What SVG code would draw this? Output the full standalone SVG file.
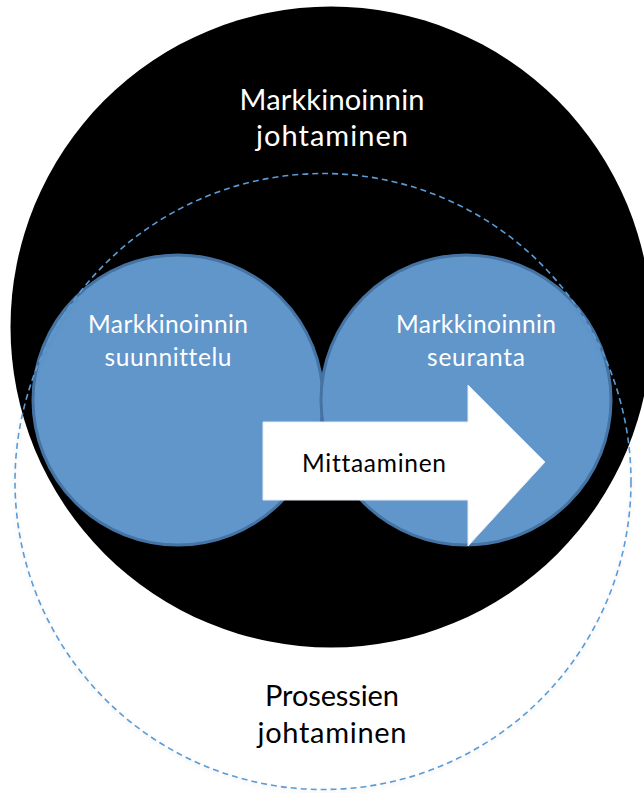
<svg xmlns="http://www.w3.org/2000/svg" width="644" height="793" viewBox="0 0 644 793">
  <defs>
    <filter id="soft" x="-10%" y="-10%" width="120%" height="120%">
      <feGaussianBlur in="SourceAlpha" stdDeviation="2"/>
      <feOffset dy="2" result="b"/>
      <feFlood flood-color="#000" flood-opacity="0.12"/>
      <feComposite in2="b" operator="in"/>
      <feMerge><feMergeNode/><feMergeNode in="SourceGraphic"/></feMerge>
    </filter>
    <style>
      .lbl { font-family: Lato, "Liberation Sans", sans-serif; text-anchor: middle; font-variant-ligatures: none; }
      .big { font-size: 29px; }
      .mid { font-size: 24.5px; }
      .light { fill: #ffffff; }
      .dark { fill: #000000; }
      .blob { fill: #6096ca; stroke: #4573a3; stroke-width: 3; }
    </style>
  </defs>
  <rect width="644" height="793" fill="#ffffff"/>

  <!-- outer area: marketing management -->
  <g id="markkinoinnin-johtaminen">
    <circle cx="331" cy="327" r="320.5" fill="#000000"/>
    <text class="lbl big light" x="332" y="110" textLength="185">Markkinoinnin</text>
    <text class="lbl big light" x="332" y="146" textLength="152">johtaminen</text>
  </g>

  <!-- planning -->
  <g id="suunnittelu">
    <ellipse class="blob" cx="178" cy="400" rx="145" ry="145"/>
    <text class="lbl mid light" x="168" y="333" textLength="160">Markkinoinnin</text>
    <text class="lbl mid light" x="168" y="366" textLength="127">suunnittelu</text>
  </g>

  <!-- follow-up -->
  <g id="seuranta">
    <ellipse class="blob" cx="466" cy="400" rx="145" ry="145"/>
    <text class="lbl mid light" x="476" y="333" textLength="160">Markkinoinnin</text>
    <text class="lbl mid light" x="476" y="366" textLength="98">seuranta</text>
  </g>

  <!-- measuring arrow -->
  <g id="mittaaminen">
    <polygon points="263,422 468,422 468,385 545,462 468,546 468,500 263,500" fill="#ffffff" stroke="#e6ecf3" stroke-width="1"/>
    <text class="lbl mid dark" x="374" y="472" textLength="144">Mittaaminen</text>
  </g>

  <!-- process management boundary -->
  <g id="prosessien-johtaminen">
    <circle cx="323" cy="481.5" r="308" fill="none" stroke="#5b9bd5" stroke-width="1.6" stroke-dasharray="6 4" filter="url(#soft)"/>
    <text class="lbl big dark" x="332" y="706" textLength="134">Prosessien</text>
    <text class="lbl big dark" x="332" y="743" textLength="149">johtaminen</text>
  </g>

  <g id="connectors"></g>
</svg>
